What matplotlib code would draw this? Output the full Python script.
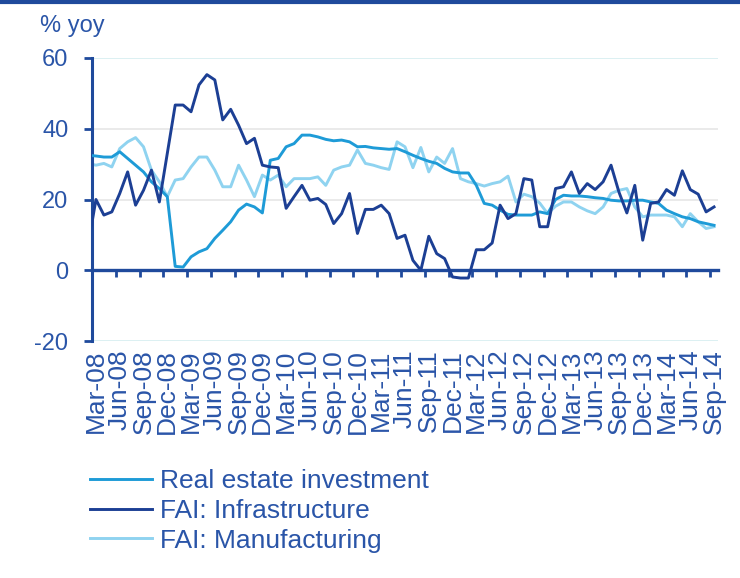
import matplotlib
matplotlib.use("Agg")
import matplotlib.pyplot as plt
from matplotlib.lines import Line2D
import numpy as np

plt.rcParams['font.family'] = ['Liberation Sans', 'DejaVu Sans']

# monthly, Feb-08 .. Sep-14 (Feb-08 sits just left of the axis)
realEstate = [32.5, 32.3, 32, 32, 33.5, 31.6, 29.7, 27.8, 25, 23.1, 20.8,
              1.1, 0.9, 3.8, 5.2, 6.1, 9, 11.3, 13.7, 17, 18.7, 17.9, 16.2,
              31.1, 31.6, 34.9, 35.8, 38.2, 38.2, 37.7, 37, 36.6, 36.8, 36.3,
              34.9, 35, 34.6, 34.4, 34.2, 34.4, 33.5, 32.5, 31.6, 30.8, 30.2,
              28.8, 27.8, 27.5, 27.5, 24, 18.9, 18.4, 17, 15.8, 15.6, 15.6,
              15.6, 16.5, 16, 20, 21.2, 21, 21, 20.8, 20.5, 20.3, 19.8, 19.6,
              19.6, 19.8, 19.8, 19.3, 18.9, 17, 16, 15.1, 14.6, 13.7, 13.2, 12.7]
infrastructure = [7, 20, 15.6, 16.5, 21.7, 27.8, 18.4, 22.6, 28.3, 19.3, 33,
                  46.7, 46.7, 44.8, 52.4, 55.3, 53.8, 42.5, 45.5, 41, 35.8,
                  37.3, 29.7, 29.2, 29, 17.5, 20.8, 24, 19.8, 20.3, 18.6, 13.2,
                  16, 21.7, 10.4, 17.2, 17.2, 18.4, 16, 9, 9.9, 2.8, 0, 9.6,
                  4.7, 3.3, -1.9, -2.2, -2.2, 5.8, 5.8, 7.7, 18.4, 14.6, 16,
                  25.9, 25.5, 12.3, 12.3, 23.1, 23.6, 27.8, 21.7, 24.5, 22.8,
                  25, 29.7, 22.1, 16.2, 24, 8.5, 18.9, 19.3, 22.8, 21.2, 28.1,
                  22.8, 21.5, 16.5, 17.9]
manufacturing = [30.2, 29.7, 30.2, 29.2, 34.4, 36.3, 37.5, 34.9, 28.3, 25,
                 20.8, 25.5, 25.9, 29.2, 32, 32, 28.3, 23.6, 23.6, 29.7, 25.5,
                 20.8, 26.9, 25.5, 26.9, 23.6, 25.9, 25.9, 25.9, 26.4, 24,
                 28.3, 29.2, 29.7, 34, 30.2, 29.7, 29, 28.5, 36.3, 34.9, 29,
                 34.7, 27.8, 32, 30.2, 34.4, 25.9, 25, 24.5, 23.8, 24.5, 25,
                 26.6, 19.3, 21.5, 20.8, 19, 16, 18.1, 19.3, 19.3, 17.9, 16.8,
                 16, 17.9, 21.7, 22.6, 23.1, 17.9, 15.1, 15.6, 15.6, 15.6, 15.1,
                 12.3, 16, 13.7, 11.8, 12.3]

tickLabels = ["Mar-08", "Jun-08", "Sep-08", "Dec-08", "Mar-09", "Jun-09", "Sep-09",
              "Dec-09", "Mar-10", "Jun-10", "Sep-10", "Dec-10", "Mar-11", "Jun-11",
              "Sep-11", "Dec-11", "Mar-12", "Jun-12", "Sep-12", "Dec-12", "Mar-13",
              "Jun-13", "Sep-13", "Dec-13", "Mar-14", "Jun-14", "Sep-14"]
yTicks = [-20, 0, 20, 40, 60]

axisBlue = "#1F4A9C"
textBlue = "#2A55A8"

fig = plt.figure(figsize=(7.4, 5.78), dpi=100)
ax = fig.add_axes([92 / 740, 1 - 341 / 578, (718 - 92) / 740, (341 - 58) / 578])

months = np.arange(-1, len(realEstate) - 1)

# grid
gridCols = ["#D5EEF0", None, "#E6E6E6", "#E6E6E6", "#D5EEF0"]
for v, c in zip(yTicks, gridCols):
    if c:
        ax.axhline(v, color=c, lw=1.2, zorder=0)

ax.plot(months, realEstate, color="#1E9BD7", lw=2.1, label="Real estate investment", zorder=3)
ax.plot(months, infrastructure, color="#1C3F94", lw=2.1, label="FAI: Infrastructure", zorder=4)
ax.plot(months, manufacturing, color="#8FD3F0", lw=2.1, label="FAI: Manufacturing", zorder=2)

ax.set_xlim(-0.5, len(realEstate) - 1.5)
ax.set_ylim(-20, 60)

for s in ["top", "right", "bottom"]:
    ax.spines[s].set_visible(False)
ax.spines["left"].set_color(axisBlue)
ax.spines["left"].set_linewidth(2.2)

ax.set_yticks(yTicks)
ax.set_yticklabels([str(v) for v in yTicks])
ax.tick_params(axis="y", colors=axisBlue, labelcolor=textBlue, length=6, width=2,
               labelsize=17, pad=11)

ax.set_xticks(np.arange(0, 79, 3))
ax.set_xticklabels(tickLabels, rotation=90, fontsize=19, color=textBlue)
ax.tick_params(axis="x", length=0, pad=6)

# zero line with its tick marks
zero = ax.secondary_xaxis(0.25)
zero.spines["bottom"].set_color(axisBlue)
zero.spines["bottom"].set_linewidth(2.4)
zero.set_xticks(np.arange(2.5, 78, 3))
zero.set_xticklabels([])
zero.tick_params(axis="x", direction="out", length=5, width=2, colors=axisBlue)

fig.text(40 / 740, 1 - 26 / 578, "% yoy", fontsize=17, color=textBlue, va="center")

# top border
fig.add_artist(Line2D([0, 1], [0.997, 0.997], color="#1F4A9C", lw=3, transform=fig.transFigure))

handles, labels = ax.get_legend_handles_labels()
fig.legend(handles, labels, loc="upper left", bbox_to_anchor=(90 / 740, 1 - 469 / 578),
           frameon=False, fontsize=19, handlelength=2.35, handletextpad=0.3,
           labelspacing=0.22, borderpad=0, borderaxespad=0, labelcolor=textBlue)

fig.savefig("out.png", dpi=100)
